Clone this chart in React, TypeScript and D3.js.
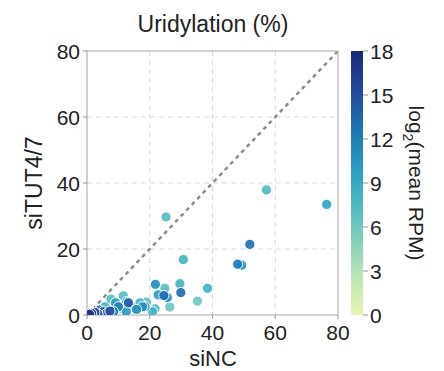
import React from "react"
import * as d3 from "d3"

// siNC uridylation (%), siTUT4/7 uridylation (%), log2(mean RPM)
const siNC = [76.4, 57.2, 25.2, 51.9, 48.0, 49.3, 30.7, 21.8, 24.8, 29.6, 38.4, 29.9, 22.7, 24.5, 25.6, 35.2, 21.7, 26.4, 17.7, 19.0,
    7.6, 11.6, 13.2, 10.0, 7.3, 5.2, 2.5, 1.5, 15.8, 14.2, 16.9, 18.5, 11.0, 9.1, 5.7, 4.1, 12.6, 20.9, 8.5, 3.5, 0.8, 12.5, 6.3]
const siTUT = [33.5, 37.9, 29.7, 21.4, 15.4, 15.1, 16.8, 9.3, 8.1, 9.5, 8.1, 6.8, 6.1, 5.9, 5.3, 4.2, 1.9, 2.4, 2.5, 3.9,
    4.8, 5.8, 3.7, 2.5, 1.2, 1.0, 0.8, 0.5, 1.7, 2.5, 3.7, 2.5, 2.0, 3.7, 2.5, 1.5, 4.0, 1.0, 1.0, 0.3, 0.2, 1.0, 0.5]
const rpm = [9.5, 7.5, 7, 13, 12, 10.5, 8, 11, 7, 8, 8, 13, 10, 13, 11, 6, 7, 6, 11, 6.5,
    7, 7, 14, 12, 15, 14, 16, 16, 11, 10, 8, 10, 9, 10, 8, 13, 8, 8, 12, 15, 17, 10, 14]

const axisTicks = [0, 20, 40, 60, 80]
const cbarTicks = [0, 3, 6, 9, 12, 15, 18]

const font = "'Liberation Sans', Arial, sans-serif"

export default function App() {
    const left = 87, right = 338, top = 51, bottom = 315
    const x = d3.scaleLinear().domain([0, 80]).range([left, right])
    const y = d3.scaleLinear().domain([0, 80]).range([bottom, top])
    const color = (v: number) => d3.interpolateYlGnBu(0.15 + 0.78 * (v / 18))

    const cbX = 351, cbW = 12
    const cy = d3.scaleLinear().domain([0, 18]).range([bottom, top])
    const stops = d3.range(0, 1.0001, 0.05)

    const pts = siNC.map((v, i) => ({ x: v, y: siTUT[i], c: rpm[i] }))
    pts.sort((a, b) => a.c - b.c)

    return (
        <svg width={444} height={371} style={{ position: "absolute", left: 0, top: 0, fontFamily: font }}>
            <defs>
                <linearGradient id="cb" x1="0" y1="1" x2="0" y2="0">
                    {stops.map((s) => (
                        <stop key={s} offset={s} stopColor={color(s * 18)} />
                    ))}
                </linearGradient>
                <clipPath id="plot">
                    <rect x={left} y={top} width={right - left} height={bottom - top} />
                </clipPath>
            </defs>
            <text x={213} y={32} textAnchor="middle" fontSize={23} fill="#222">Uridylation (%)</text>

            {/* grid */}
            {axisTicks.slice(1, 4).map((t) => (
                <g key={t}>
                    <line x1={x(t)} x2={x(t)} y1={top} y2={bottom} stroke="#d9d9d9" strokeDasharray="5 4" />
                    <line x1={left} x2={right} y1={y(t)} y2={y(t)} stroke="#d9d9d9" strokeDasharray="5 4" />
                </g>
            ))}

            {/* diagonal */}
            <line x1={x(0)} y1={y(0)} x2={x(80)} y2={y(80)} stroke="#8c8c8c" strokeWidth={2.5} strokeDasharray="4 4" clipPath="url(#plot)" />

            {/* frame */}
            <rect x={left} y={top} width={right - left} height={bottom - top} fill="none" stroke="#b5b5b5" strokeWidth={1.2} />

            {/* points */}
            <g clipPath="url(#plot)">
                {pts.map((p, i) => (
                    <circle key={i} cx={x(p.x)} cy={y(p.y)} r={5.1} fill={color(p.c)} fillOpacity={0.92} stroke="#fff" strokeWidth={1} />
                ))}
            </g>

            {/* ticks */}
            {axisTicks.map((t) => (
                <g key={t}>
                    <line x1={x(t)} x2={x(t)} y1={bottom} y2={bottom + 4} stroke="#999" />
                    <text x={x(t)} y={bottom + 25} textAnchor="middle" fontSize={21} fill="#222">{t}</text>
                    <line x1={left - 4} x2={left} y1={y(t)} y2={y(t)} stroke="#999" />
                    <text x={left - 7} y={y(t) + 8} textAnchor="end" fontSize={21} fill="#222">{t}</text>
                </g>
            ))}
            <text x={213} y={366} textAnchor="middle" fontSize={22} fill="#222">siNC</text>
            <text transform={`translate(42,${(top + bottom) / 2}) rotate(-90)`} textAnchor="middle" fontSize={23} fill="#222">siTUT4/7</text>

            {/* colorbar */}
            <rect x={cbX} y={top} width={cbW} height={bottom - top} fill="url(#cb)" />
            {cbarTicks.map((t) => (
                <g key={t}>
                    <line x1={cbX + cbW} x2={cbX + cbW + 5} y1={cy(t)} y2={cy(t)} stroke="#999" />
                    <text x={cbX + cbW + 7} y={cy(t) + 8} fontSize={21} fill="#222">{t}</text>
                </g>
            ))}
            <text transform={`translate(409,${(top + bottom) / 2}) rotate(90)`} textAnchor="middle" fontSize={21} fill="#222">
                log<tspan fontSize={14} dy={6}>2</tspan><tspan dy={-6}>(mean RPM)</tspan>
            </text>
        </svg>
    )
}
